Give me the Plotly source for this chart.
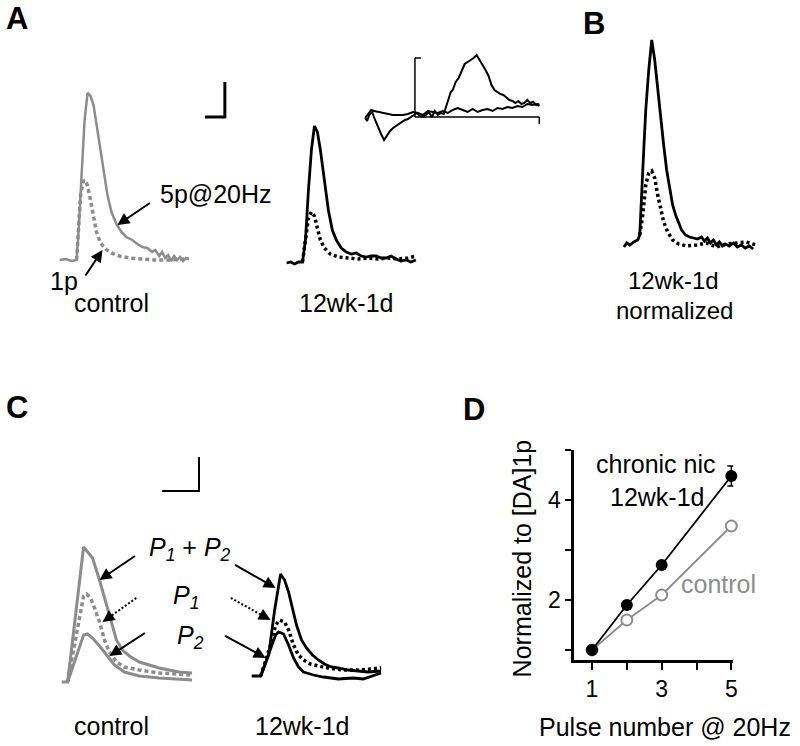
import math
import plotly.graph_objects as go

W, H = 800, 746
GRAY = "#8c8c8c"
FONT = "Liberation Sans, Arial, sans-serif"

# ---------------- data (time in a.u., amplitude above baseline in a.u.) ----------------
# Panel A, control: 5 pulses @ 20 Hz (solid) and 1 pulse (dotted)
a_ctrl_5p_t = [0, 6, 12, 17, 19, 22, 25, 28, 31, 34, 37, 40, 44, 48, 52, 57, 62, 67, 73, 78, 83, 88, 93,
               96, 100, 103, 106, 109, 112, 115, 118, 121, 124, 127, 130]
a_ctrl_5p_y = [0, 1, -1, 0, 30, 90, 140, 167, 164, 155, 135, 115, 90, 65, 48, 36, 28, 23, 20, 16, 13, 12, 8,
               10, 4, 8, 2, 5, -1, 4, 0, 3, -1, 2, 1]
a_ctrl_1p_t = [17, 19, 21, 24, 27, 30, 33, 37, 41, 46, 52, 60, 70, 80, 95, 110, 125]
a_ctrl_1p_y = [0, 30, 65, 80, 77, 65, 47, 28, 17, 11, 7, 4, 2, 1, 0, 0, 1]

# Panel A, 12wk-1d
a_nic_5p_t = [0, 4, 8, 12, 16, 19, 22, 25, 28, 31, 34, 38, 42, 46, 50, 55, 60, 65, 70, 75, 80, 85, 90, 95,
              100, 105, 110, 115, 120, 125, 130]
a_nic_5p_y = [0, 1, -1, 1, 1, 23, 73, 113, 137, 131, 113, 83, 53, 33, 23, 15, 11, 9, 10, 7, 6, 7, 7, 5,
              5, 7, 4, 2, 3, 1, 3]
a_nic_1p_t = [16, 19, 22, 25, 28, 31, 34, 38, 44, 52, 62, 72, 82, 92, 102, 112, 122, 130]
a_nic_1p_y = [1, 23, 45, 51, 47, 35, 23, 15, 9, 6, 5, 4, 5, 4, 5, 4, 5, 7]

# Panel A inset
inset_1_t = [0, 2, 4, 7, 10, 13, 16, 19, 22, 25, 28, 31, 34, 37, 40, 43, 46, 49, 52, 55, 58, 61, 64, 67,
             70, 73, 76, 79, 82, 84, 86, 88, 91, 94, 97, 100, 103, 106, 109, 112, 115, 118, 121, 124,
             127, 130, 133, 136, 139, 142, 145, 148, 151, 154, 157, 160, 163, 166, 169, 172, 175]
inset_1_y = [-1, -4, 2, 5, -3, -11, -17, -23, -18, -14, -11, -9, -7, -5, -3, -2, 0, 2, 4, 1, 0, 2, 5, 0,
             6, 2, 4, 3, 13, 20, 25, 27, 35, 39, 47, 53, 55, 57, 59, 62, 57, 53, 47, 41,
             32, 27, 25, 23, 22, 19, 17, 16, 14, 16, 13, 14, 17, 14, 15, 12, 13]
inset_2_t = [0, 3, 6, 9, 13, 18, 23, 28, 33, 38, 43, 48, 53, 58, 63, 68, 73, 78, 83, 88, 93, 98, 103,
             108, 113, 118, 123, 128, 133, 138, 143, 148, 153, 158, 163, 168, 173, 175]
inset_2_y = [-1, 3, 7, 6, 5, 4, 3, 2, 2, 2, 3, 5, 4, 2, 6, 5, 4, 6, 4, 7, 9, 7, 5,
             8, 5, 7, 8, 6, 9, 8, 10, 9, 11, 10, 13, 12, 13, 11]

# Panel B, 12wk-1d normalized
b_5p_t = [0, 3, 6, 10, 14, 16, 19, 22, 25, 28, 31, 34, 37, 40, 43, 46, 49, 52, 55, 58, 62, 66, 70, 74,
          78, 81, 84, 87, 90, 93, 96, 99, 102, 106, 110, 114, 118, 122, 126, 130]
b_5p_y = [-2, 2, 0, 3, 5, 10, 75, 135, 175, 205, 185, 155, 125, 100, 75, 55, 40, 30, 22, 15, 10, 8, 7, 6,
          8, 4, 7, 2, 5, 0, 3, -1, 1, -1, 2, -2, 0, -3, -1, -4]
b_1p_t = [16, 19, 22, 25, 28, 31, 34, 37, 40, 44, 49, 55, 63, 73, 83, 93, 103, 113, 123, 133]
b_1p_y = [10, 30, 60, 72, 74, 67, 50, 35, 23, 13, 5, 1, -1, 0, 2, -2, 1, 2, 3, 0]

# Panel C, control: P1+P2 (solid), P1 (dotted), P2 (solid)
c_ctrl_sum_t = [0, 6, 22, 25, 31, 38, 45, 51, 55, 61, 68, 78, 88, 98, 108, 118, 131]
c_ctrl_sum_y = [0, 0, 135, 131, 124, 102, 77, 54, 42, 32, 26, 20, 17, 14, 12, 10, 9]
c_ctrl_p1_t = [6, 22, 25, 29, 33, 38, 43, 48, 55, 63, 78, 98, 131]
c_ctrl_p1_y = [0, 86, 88, 84, 74, 60, 42, 30, 20, 15, 12, 9, 7]
c_ctrl_p2_t = [6, 22, 26, 31, 38, 45, 53, 63, 78, 98, 131]
c_ctrl_p2_y = [0, 47, 48, 44, 36, 27, 17, 10, 6, 4, 2]

# Panel C, 12wk-1d
c_nic_sum_t = [0, 9, 17, 23, 29, 33, 37, 41, 45, 50, 55, 61, 67, 73, 80, 87, 97, 107, 117, 130]
c_nic_sum_y = [0, 0, 21, 66, 102, 96, 84, 68, 51, 36, 28, 21, 16, 12, 9, 8, 6, 5, 4, 5]
c_nic_p1_t = [9, 19, 24, 28, 33, 37, 42, 47, 52, 59, 67, 77, 92, 107, 130]
c_nic_p1_y = [0, 31, 51, 56, 54, 46, 31, 21, 16, 12, 10, 8, 6, 6, 8]
c_nic_p2_t = [9, 19, 24, 27, 32, 37, 42, 47, 52, 62, 72, 87, 102, 112, 122, 130]
c_nic_p2_y = [0, 28, 41, 44, 42, 31, 18, 9, 4, 1, -1, -3, -2, -3, 0, 3]

# Panel D
d_pulses = [1, 2, 3, 5]
d_chronic = [1.0, 1.9, 2.7, 4.48]
d_chronic_err = [0, 0, 0, 0.2]
d_control = [1.0, 1.6, 2.1, 3.48]
d_yticks = [1, 2, 3, 4, 5]
d_ytick_text = ["", "2", "", "4", ""]
d_xticks = [1, 2, 3, 4, 5]
d_xtick_text = ["1", "", "3", "", "5"]

# ---------------- layout helpers ----------------
def px(x, y):
    return x / W, 1 - y / H


layout = dict(width=W, height=H, margin=dict(l=0, r=0, t=0, b=0), autosize=False,
              paper_bgcolor="white", plot_bgcolor="rgba(0,0,0,0)", showlegend=False,
              font=dict(family=FONT, size=25, color="black"))


def add_axes(i, box, origin):
    l, t, r, b = box
    x0, y0 = origin
    layout[f"xaxis{i}"] = dict(domain=[l / W, r / W], range=[l - x0, r - x0], visible=False,
                               anchor=f"y{i}", fixedrange=True)
    layout[f"yaxis{i}"] = dict(domain=[1 - b / H, 1 - t / H], range=[y0 - b, y0 - t], visible=False,
                               anchor=f"x{i}", fixedrange=True)


add_axes(1, (40, 70, 200, 280), (60, 260))     # A control
add_axes(2, (270, 100, 430, 280), (288, 263))  # A 12wk-1d
add_axes(3, (355, 40, 555, 150), (367, 117))   # A inset
add_axes(4, (610, 20, 780, 270), (627, 245))   # B
add_axes(5, (50, 520, 210, 700), (62, 682))    # C control
add_axes(6, (240, 550, 400, 700), (253, 676))  # C 12wk-1d

fig = go.Figure()


def line(i, t, y, color, width, dash="solid"):
    fig.add_trace(go.Scatter(x=t, y=y, mode="lines", xaxis=f"x{i}", yaxis=f"y{i}",
                             line=dict(color=color, width=width, dash=dash), hoverinfo="skip"))


line(1, a_ctrl_1p_t, a_ctrl_1p_y, GRAY, 3.5, "4px,3px")
line(1, a_ctrl_5p_t, a_ctrl_5p_y, GRAY, 2.5)
line(2, a_nic_1p_t, a_nic_1p_y, "black", 3.5, "3px,3px")
line(2, a_nic_5p_t, a_nic_5p_y, "black", 2.8)
line(3, inset_2_t, inset_2_y, "black", 2)
line(3, inset_1_t, inset_1_y, "black", 2)
line(4, b_1p_t, b_1p_y, "black", 3.5, "3px,3px")
line(4, b_5p_t, b_5p_y, "black", 2.8)
line(5, c_ctrl_sum_t, c_ctrl_sum_y, GRAY, 3)
line(5, c_ctrl_p2_t, c_ctrl_p2_y, GRAY, 3)
line(5, c_ctrl_p1_t, c_ctrl_p1_y, GRAY, 3.5, "4px,3px")
line(6, c_nic_sum_t, c_nic_sum_y, "black", 2.8)
line(6, c_nic_p2_t, c_nic_p2_y, "black", 2.8)
line(6, c_nic_p1_t, c_nic_p1_y, "black", 3.5, "3px,3px")

# Panel D
layout["xaxis7"] = dict(domain=[577 / W, 737 / W], range=[0.486, 5.057], anchor="y7",
                        showline=True, linewidth=2.5, linecolor="black", ticks="outside",
                        ticklen=7, tickwidth=2, tickcolor="black", tickvals=d_xticks,
                        ticktext=d_xtick_text, tickfont=dict(size=23), showgrid=False,
                        zeroline=False, fixedrange=True)
layout["yaxis7"] = dict(domain=[1 - 660 / H, 1 - 450 / H], range=[0.8, 5.0], anchor="x7",
                        showline=True, linewidth=2.5, linecolor="black", ticks="outside",
                        ticklen=6, tickwidth=2, tickcolor="black", tickvals=d_yticks,
                        ticktext=d_ytick_text, tickfont=dict(size=23), showgrid=False,
                        zeroline=False, fixedrange=True)
fig.add_trace(go.Scatter(x=d_pulses, y=d_control, mode="lines+markers", xaxis="x7", yaxis="y7",
                         line=dict(color=GRAY, width=1.8), cliponaxis=False,
                         marker=dict(symbol="circle", size=11, color="white",
                                     line=dict(color=GRAY, width=2))))
fig.add_trace(go.Scatter(x=d_pulses, y=d_chronic, mode="lines+markers", xaxis="x7", yaxis="y7",
                         line=dict(color="black", width=1.8), cliponaxis=False,
                         error_y=dict(type="data", array=d_chronic_err, color="black",
                                      thickness=1.5, width=4),
                         marker=dict(symbol="circle", size=12, color="black")))

fig.update_layout(**layout)

# ---------------- text ----------------
def text(s, x, y, size=25, color="black", angle=0, bold=False):
    xp, yp = px(x, y)
    fig.add_annotation(x=xp, y=yp, xref="paper", yref="paper", text=f"<b>{s}</b>" if bold else s,
                       showarrow=False, textangle=angle, xanchor="center", yanchor="middle",
                       font=dict(family=FONT, size=size, color=color))


for s, x, y in [("A", 17, 18), ("B", 597, 23), ("C", 17, 407), ("D", 476, 409)]:
    text(s, x, y, size=31, bold=True)

text("5p@20Hz", 217, 194)
text("1p", 64, 281)
text("control", 112, 303)
text("12wk-1d", 348, 303)
text("12wk-1d", 677, 281, size=24)
text("normalized", 678, 310, size=24)
text("<i>P</i><sub><i>1</i></sub> + <i>P</i><sub><i>2</i></sub>", 191, 549)
text("<i>P</i><sub><i>1</i></sub>", 187, 597)
text("<i>P</i><sub><i>2</i></sub>", 191, 637)
text("control", 112, 726)
text("12wk-1d", 304, 726)
text("chronic nic", 659, 464)
text("12wk-1d", 661, 497)
text("control", 722, 584, color=GRAY)
text("Pulse number @ 20Hz", 668, 727)
text("Normalized to [DA]1p", 525, 558, angle=-90)


# ---------------- arrows ----------------
def arrow(head, tail, dotted=False):
    hx, hy = head
    tx, ty = tail
    xp, yp = px(hx, hy)
    if dotted:
        d = math.hypot(tx - hx, ty - hy)
        ux, uy = (tx - hx) / d, (ty - hy) / d
        a, b = px(tx, ty)
        c, e = px(hx + ux * 8, hy + uy * 8)
        fig.add_shape(type="line", xref="paper", yref="paper", x0=a, y0=b, x1=c, y1=e,
                      line=dict(color="black", width=2, dash="2px,2px"))
        fig.add_annotation(x=xp, y=yp, xref="paper", yref="paper", axref="pixel", ayref="pixel",
                           ax=ux * 12, ay=uy * 12, text="", showarrow=True, arrowhead=2,
                           arrowsize=1.2, arrowwidth=2, arrowcolor="black")
    else:
        fig.add_annotation(x=xp, y=yp, xref="paper", yref="paper", axref="pixel", ayref="pixel",
                           ax=tx - hx, ay=ty - hy, text="", showarrow=True, arrowhead=2,
                           arrowsize=1.2, arrowwidth=2, arrowcolor="black")


arrow((118, 225), (152, 202))
arrow((103, 250), (85, 277))
arrow((100, 580), (137, 555))
arrow((277, 588), (235, 564))
arrow((103, 622), (137, 598), dotted=True)
arrow((272, 620), (232, 598), dotted=True)
arrow((110, 656), (147, 632))
arrow((267, 658), (225, 635))


# ---------------- scale bars ----------------
def seg(x0, y0, x1, y1, w):
    a, b = px(x0, y0)
    c, d = px(x1, y1)
    fig.add_shape(type="line", xref="paper", yref="paper", x0=a, y0=b, x1=c, y1=d,
                  line=dict(color="black", width=w))


seg(226, 82, 226, 118, 3)
seg(206, 117, 227, 117, 3)
seg(417, 58, 417, 117, 1.5)
seg(417, 58, 423, 58, 1.5)
seg(417, 117, 542, 117, 1.5)
seg(542, 117, 542, 124, 1.5)
seg(200, 457, 200, 492, 2)
seg(163, 491, 201, 491, 2)

fig.write_html("out.html", config={"displayModeBar": False},
               post_script="document.body.style.margin='0';document.body.style.overflow='hidden';")
